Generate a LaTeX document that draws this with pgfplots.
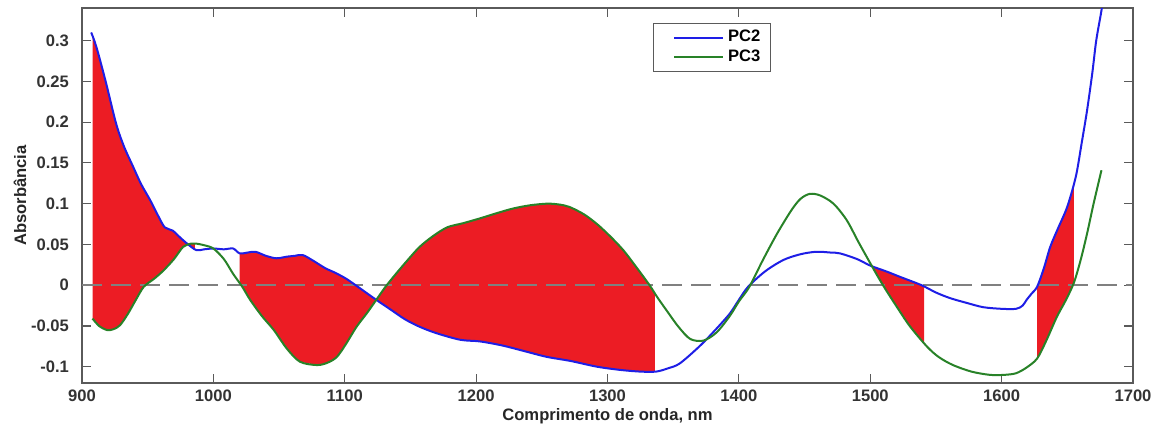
\documentclass[border=0pt]{standalone}
\usepackage{fontspec}
\setmainfont{Liberation Sans}
\usepackage{pgfplots}
\usepackage{pgfplotstable}
\pgfplotsset{compat=1.18}
\usepgfplotslibrary{fillbetween}
\definecolor{pcblue}{RGB}{30,30,230}
\definecolor{pcgreen}{RGB}{40,130,40}
\definecolor{fillred}{RGB}{236,28,36}
\definecolor{axgray}{RGB}{90,90,90}

% PC2 loading
\pgfplotstableread{
x y
907 0.31
911 0.292
918 0.25
926 0.198
932 0.17
939 0.145
945 0.124
952 0.104
958 0.085
963 0.071
969 0.067
975 0.058
980 0.051
987 0.043
993 0.044
1000 0.045
1008 0.044
1015 0.045
1020 0.039
1026 0.040
1032 0.041
1040 0.036
1048 0.033
1056 0.035
1062 0.036
1068 0.037
1076 0.030
1085 0.021
1093 0.015
1101 0.008
1110 -0.002
1117 -0.010
1124 -0.018
1135 -0.030
1146 -0.042
1157 -0.051
1170 -0.059
1188 -0.067
1203 -0.069
1220 -0.074
1237 -0.081
1254 -0.088
1272 -0.093
1292 -0.100
1310 -0.104
1325 -0.106
1337 -0.106
1346 -0.102
1355 -0.096
1370 -0.075
1382 -0.055
1393 -0.035
1400 -0.018
1407 -0.002
1420 0.017
1434 0.031
1447 0.038
1459 0.041
1470 0.040
1477 0.039
1490 0.032
1500 0.024
1512 0.017
1523 0.010
1539 0.0
1550 -0.009
1561 -0.016
1574 -0.022
1586 -0.027
1600 -0.029
1611 -0.029
1616 -0.025
1619 -0.018
1623 -0.010
1627 -0.002
1632 0.020
1637 0.047
1643 0.070
1649 0.092
1653 0.112
1657 0.137
1661 0.175
1665 0.214
1669 0.260
1672 0.300
1676 0.337
1678 0.360
}\pctwo

% PC3 loading
\pgfplotstableread{
x y
908 -0.041
913 -0.050
919 -0.055
924 -0.054
929 -0.049
935 -0.035
941 -0.018
947 -0.002
955 0.008
962 0.018
970 0.032
977 0.047
983 0.051
987 0.051
993 0.049
1000 0.045
1008 0.032
1015 0.014
1022 -0.002
1028 -0.018
1037 -0.038
1046 -0.055
1056 -0.078
1066 -0.094
1079 -0.098
1087 -0.095
1094 -0.088
1101 -0.072
1109 -0.051
1117 -0.034
1124 -0.018
1131 -0.002
1139 0.014
1148 0.031
1157 0.047
1167 0.060
1178 0.071
1190 0.076
1203 0.082
1215 0.088
1228 0.094
1241 0.098
1254 0.100
1263 0.099
1271 0.096
1282 0.087
1292 0.075
1302 0.060
1312 0.043
1322 0.022
1332 0.0
1338 -0.015
1345 -0.031
1354 -0.051
1363 -0.066
1373 -0.068
1383 -0.058
1393 -0.038
1400 -0.020
1408 -0.002
1418 0.030
1429 0.063
1440 0.092
1447 0.106
1454 0.112
1462 0.110
1472 0.100
1482 0.080
1491 0.053
1500 0.027
1506 0.010
1512 -0.006
1520 -0.026
1530 -0.050
1543 -0.075
1552 -0.088
1563 -0.098
1577 -0.106
1591 -0.110
1602 -0.110
1611 -0.108
1619 -0.101
1627 -0.090
1634 -0.068
1642 -0.039
1649 -0.018
1655 0.003
1660 0.030
1665 0.063
1670 0.100
1676 0.141
}\pcthree

\begin{document}
\begin{tikzpicture}
\begin{axis}[
  name=ax,
  scale only axis,
  width=525.5pt, height=187.5pt,
  xmin=900, xmax=1700, ymin=-0.12, ymax=0.34,
  xtick={900,1000,...,1700},
  ytick={-0.1,-0.05,0,0.05,0.1,0.15,0.2,0.25,0.3},
  tick align=inside, major tick length=4.5pt,
  axis line style={axgray, line width=0.8pt},
  tick style={axgray, line width=0.6pt},
  /pgf/number format/.cd, fixed, precision=2, assume math mode=true,
  /pgfplots/.cd,
  scaled y ticks=false, scaled x ticks=false,
  xticklabel style={/pgf/number format/1000 sep={}},
  yticklabel style={xshift=-3pt},
  tick label style={font=\bfseries\fontsize{8.3}{9}\selectfont, text=black!80},
  xlabel={Comprimento de onda, nm},
  ylabel={Absorbância},
  every axis x label/.style={at={(rel axis cs:0.5,-0.088)}, anchor=center,
    font=\bfseries\fontsize{8.3}{9}\selectfont, text=black!85},
  every axis y label/.style={at={(rel axis cs:-0.059,0.5)}, rotate=90, anchor=center,
    font=\bfseries\fontsize{8.3}{9}\selectfont, text=black!85},
  legend style={at={(0.543,0.96)}, anchor=north west, draw=axgray,
    font=\bfseries\fontsize{8.3}{10}\selectfont, inner xsep=3pt, inner ysep=1.5pt,
    row sep=-1.5pt, legend cell align=left},
  legend image code/.code={\path (-7pt,0pt); \draw[#1] (0pt,0pt) -- (24.5pt,0pt);},
]
% hidden straight copies for the fills
\addplot[name path=pctwo, draw=none, forget plot] table {\pctwo};
\addplot[name path=pcthree, draw=none, forget plot] table {\pcthree};
\addplot[fillred, forget plot] fill between[of=pctwo and pcthree, soft clip={domain=908:986}];
\addplot[fillred, forget plot] fill between[of=pctwo and pcthree, soft clip={domain=1020:1336}];
\addplot[fillred, forget plot] fill between[of=pctwo and pcthree, soft clip={domain=1500:1541}];
\addplot[fillred, forget plot] fill between[of=pctwo and pcthree, soft clip={domain=1627:1655}];
\addplot[gray, line width=1pt, dash pattern=on 10pt off 4.5pt, forget plot] coordinates {(900,0) (1700,0)};
\addplot[pcblue, line width=1pt, smooth] table {\pctwo};
\addlegendentry{PC2}
\addplot[pcgreen, line width=1pt, smooth] table {\pcthree};
\addlegendentry{PC3}
\end{axis}
\path (ax.south west) +(-41pt,-22.5pt) (ax.north east) +(14.5pt,4pt);
\end{tikzpicture}
\end{document}
